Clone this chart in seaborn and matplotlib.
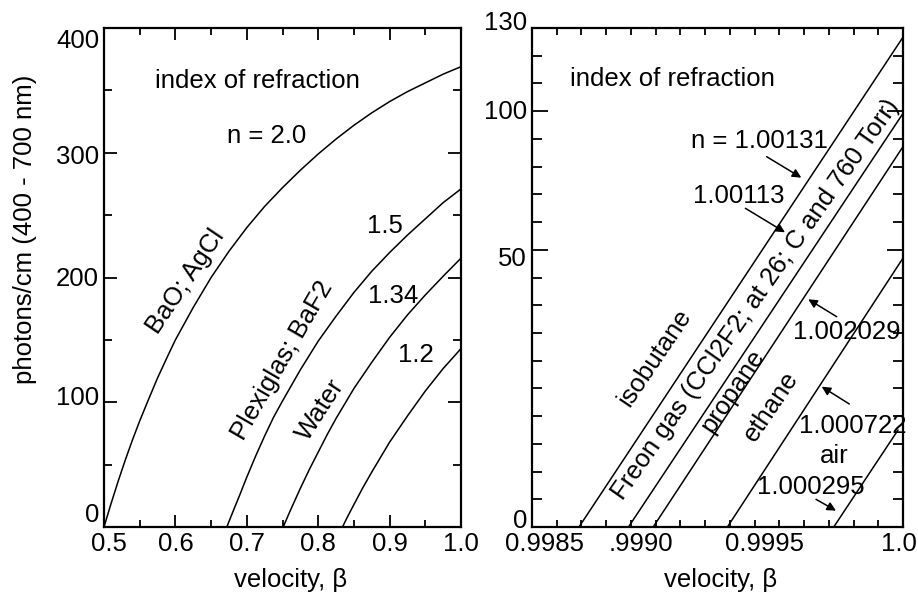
import numpy as np
import pandas as pd
import matplotlib
matplotlib.use("Agg")
import matplotlib.pyplot as plt
import matplotlib.transforms as mtransforms
import seaborn as sns

# ---------------- data: left panel (photons/cm vs beta) ----------------
n20_beta = [0.500, 0.510, 0.520, 0.530, 0.540, 0.550, 0.560, 0.575, 0.590, 0.600,
            0.625, 0.650, 0.675, 0.700, 0.725, 0.750, 0.775, 0.800, 0.825, 0.850,
            0.875, 0.900, 0.925, 0.950, 0.975, 1.000]
n20_phot = [0, 19, 37, 54, 70, 85, 99, 119.5, 138, 150,
            176, 200, 221, 240, 257, 272, 286, 299, 311, 322,
            332, 341, 349, 356, 363, 369]

n15_beta = [0.672, 0.680, 0.690, 0.700, 0.7125, 0.725, 0.7375, 0.750, 0.775, 0.800,
            0.825, 0.850, 0.875, 0.900, 0.925, 0.950, 0.975, 1.000]
n15_phot = [0, 11.5, 25.5, 40, 57, 73, 88, 101, 126, 149,
            169, 188, 205, 220, 234, 247, 260, 271]

n134_beta = [0.751, 0.760, 0.775, 0.7875, 0.800, 0.8125, 0.825, 0.850, 0.875,
             0.900, 0.925, 0.950, 0.975, 1.000]
n134_phot = [0, 12, 31, 46, 60, 74, 87, 111, 132, 152, 170, 186, 201, 215.5]

n12_beta = [0.834, 0.840, 0.850, 0.8625, 0.875, 0.8875, 0.900, 0.925, 0.950, 0.975, 1.000]
n12_phot = [0, 7, 18, 31.5, 44, 56, 68, 89, 109, 127, 143]

left_xticks = [0.5, 0.6, 0.7, 0.8, 0.9, 1.0]
left_xticklabels = ["0.5", "0.6", "0.7", "0.8", "0.9", "1.0"]
left_yticks = [0, 100, 200, 300, 400]
left_yticklabels = ["0", "100", "200", "300", "400"]

# ---------------- data: right panel (gases) ----------------
gas_names = ["isobutane", "freon", "propane", "ethane", "air"]
gas_beta_start = [0.99869, 0.99889, 0.99899, 0.99929, 0.99972]
gas_beta_end = [1.0, 1.0, 1.0, 1.0, 0.99998]
gas_phot_end = [126.7, 99.2, 87.2, 48.5, 17.5]

right_xticks = [0.9985, 0.9990, 0.9995, 1.0]
right_xticklabels = ["0.9985", ".9990", "0.9995", "1.0"]
right_yticks = [0, 50, 100, 130]
right_yticklabels = ["0", "50", "100", "130"]
right_yminor = [5, 10, 15, 20, 25, 30, 35, 40, 45, 60, 70, 80, 90, 110, 120]

# ---------------- style ----------------
sns.set_theme(style="ticks")
plt.rcParams['font.family'] = ['Liberation Sans', 'DejaVu Sans']
plt.rcParams['font.size'] = 18.5
plt.rcParams['text.color'] = 'black'
plt.rcParams['axes.labelcolor'] = 'black'
plt.rcParams['xtick.color'] = 'black'
plt.rcParams['ytick.color'] = 'black'
plt.rcParams['axes.edgecolor'] = 'black'
FS = 18.5

fig = plt.figure(figsize=(9.18, 5.97), dpi=100)
W, H = 918, 597
axL = fig.add_axes([104 / W, (H - 527) / H, 357 / W, 499 / H])
axR = fig.add_axes([532 / W, (H - 527) / H, 371 / W, 499 / H])

# ---------------- left panel ----------------
frames = []
for name, b, p in [("2.0", n20_beta, n20_phot), ("1.5", n15_beta, n15_phot),
                   ("1.34", n134_beta, n134_phot), ("1.2", n12_beta, n12_phot)]:
    frames.append(pd.DataFrame({"beta": b, "photons": p, "n": name}))
dfL = pd.concat(frames, ignore_index=True)
sns.lineplot(data=dfL, x="beta", y="photons", units="n", estimator=None,
             color="black", lw=1.1, sort=False, ax=axL, legend=False)
axL.set_xlim(0.5, 1.0)
axL.set_ylim(0, 400)
axL.set_xticks(left_xticks, labels=left_xticklabels)
axL.set_xticks(np.arange(0.55, 1.0, 0.1), minor=True)
axL.set_yticks(left_yticks, labels=left_yticklabels)
axL.set_yticks([50, 150, 250, 350], minor=True)

# ---------------- right panel ----------------
rows = []
for g, b0, b1, p1 in zip(gas_names, gas_beta_start, gas_beta_end, gas_phot_end):
    rows.append({"beta": b0, "photons": 0.0, "gas": g})
    rows.append({"beta": b1, "photons": p1, "gas": g})
dfR = pd.DataFrame(rows)
sns.lineplot(data=dfR, x="beta", y="photons", units="gas", estimator=None,
             color="black", lw=1.1, sort=False, ax=axR, legend=False)

yb = np.array([0.0, 50.0, 100.0, 130.0])
ub = np.array([0.0, 10.0, 15.0, 18.0])


def fwd(y):
    y = np.asarray(y, dtype=float)
    return np.where(y < 0, y / 5.0,
                    np.where(y > 130, 18 + (y - 130) / 10.0, np.interp(y, yb, ub)))


def inv(u):
    u = np.asarray(u, dtype=float)
    return np.where(u < 0, u * 5.0,
                    np.where(u > 18, 130 + (u - 18) * 10.0, np.interp(u, ub, yb)))


axR.set_yscale("function", functions=(fwd, inv))
axR.set_xlim(0.9985, 1.0)
axR.set_ylim(0, 130)
axR.set_xticks(right_xticks, labels=right_xticklabels)
axR.set_xticks(np.linspace(0.9985, 1.0, 16), minor=True)
axR.set_yticks(right_yticks, labels=right_yticklabels)
axR.set_yticks(right_yminor, minor=True)

for ax in (axL, axR):
    for s in ax.spines.values():
        s.set_linewidth(1.6)
        s.set_color("black")
    ax.tick_params(which="both", direction="in", top=True, right=True,
                   width=1.3, pad=3.5, labelsize=FS, colors="black")
    ax.set_ylabel("")
    ax.set_xlabel("")

axL.tick_params(axis="x", which="major", length=8.6)
axL.tick_params(axis="x", which="minor", length=5)
axL.tick_params(axis="y", which="major", length=9.5)
axL.tick_params(axis="y", which="minor", length=6)
axR.tick_params(axis="x", which="both", length=5)
axR.tick_params(axis="y", which="major", length=11.5)
axR.tick_params(axis="y", which="minor", length=7)

# axis labels
axL.set_ylabel("photons/cm (400 - 700 nm)", fontsize=FS, va="center")
axL.yaxis.set_label_coords((25 - 104) / 357, (527 - 229) / 499)
axL.set_xlabel("velocity, β", fontsize=FS, va="baseline")
axL.xaxis.set_label_coords(0.5224, (527 - 587) / 499)
axR.set_xlabel("velocity, β", fontsize=FS, va="baseline")
axR.xaxis.set_label_coords(0.5081, (527 - 587) / 499)

# ---------------- annotations ----------------
def txt(ax, x, y, s, rot=0, va="baseline"):
    ax.text(x, y, s, transform=ax.transAxes, ha="center", va=va,
            rotation=rot, fontsize=FS, color="black")

txt(axL, 0.4294, 0.8798, "index of refraction")
txt(axL, 0.4552, 0.7695, "n = 2.0")
txt(axL, 0.7866, 0.5892, "1.5")
txt(axL, 0.8095, 0.4495, "1.34")
txt(axL, 0.8731, 0.3307, "1.2")
txt(axL, 0.2289, 0.4916, "BaO; AgCl", rot=56, va="center")
txt(axL, 0.4994, 0.3327, "Plexiglas; BaF2", rot=60, va="center")
txt(axL, 0.6070, 0.2355, "Water", rot=57, va="center")

txt(axR, 0.3774, 0.8838, "index of refraction")
txt(axR, 0.6124, 0.7589, "n = 1.00131")
txt(axR, 0.5561, 0.6499, "1.00113")
txt(axR, 0.8482, 0.3762, "1.002029")
txt(axR, 0.8639, 0.1890, "1.000722")
txt(axR, 0.8140, 0.1277, "air")
txt(axR, 0.7515, 0.0661, "1.000295")
txt(axR, 0.3315, 0.3397, "isobutane", rot=56, va="center")
txt(axR, 0.6038, 0.4569, "Freon gas (CCl2F2; at 26; C and 760 Torr)", rot=55, va="center")
txt(axR, 0.5404, 0.2725, "propane", rot=56, va="center")
txt(axR, 0.6442, 0.2425, "ethane", rot=56, va="center")

arrows = [((0.6326, 0.7421), (0.7259, 0.7001)),
          ((0.5751, 0.6387), (0.6819, 0.5906)),
          ((0.8213, 0.4214), (0.7447, 0.4563)),
          ((0.8553, 0.2465), (0.7809, 0.2812)),
          ((0.7655, 0.0555), (0.8194, 0.0327))]
for tail, head in arrows:
    axR.annotate("", xy=head, xytext=tail, xycoords="axes fraction",
                 textcoords="axes fraction",
                 arrowprops=dict(arrowstyle="-|>", color="black", lw=1.1,
                                 mutation_scale=13, shrinkA=0, shrinkB=0))

# small manual shifts of tick labels as in the original (pixels: dx right, dy down)
def shift_labels(axis, shifts):
    for t, (dx, dy) in zip(axis.get_major_ticks(), shifts):
        t.label1.set_transform(t.label1.get_transform() +
                               mtransforms.ScaledTranslation(dx / 100, -dy / 100, fig.dpi_scale_trans))

shift_labels(axL.yaxis, [(0, -15), (0, -7), (0, -1), (0, 2), (0, 10)])
shift_labels(axL.xaxis, [(5, 0), (0, 0), (0, 0), (0, 0), (0, 0), (0, 0)])
shift_labels(axR.yaxis, [(0, -9), (0, 7), (0, -2), (0, -7)])
shift_labels(axR.xaxis, [(12, 0), (-15, 0), (-15, 0), (-4, 0)])

fig.savefig("out.png", dpi=100)
